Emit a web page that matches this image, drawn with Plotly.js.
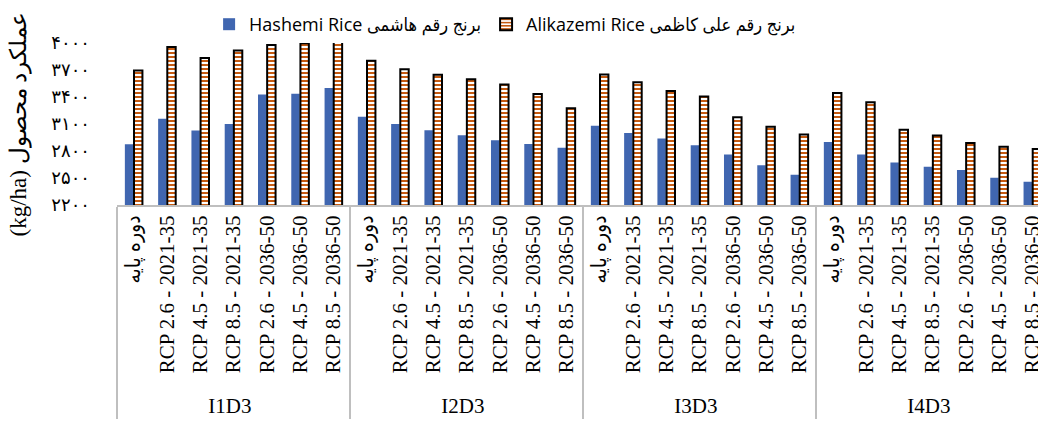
<!DOCTYPE html>
<html>
<head>
<meta charset="utf-8">
<script src="https://cdn.plot.ly/plotly-3.0.1.min.js"></script>
<style>
  html, body { margin: 0; padding: 0; background: #fff; }
  #chart { width: 1038px; height: 426px; }
</style>
</head>
<body>
<div id="chart"></div>
<script>
// groups (irrigation treatments) and scenarios inside each group
const groups = ['I1D3', 'I2D3', 'I3D3', 'I4D3'];
const scenarios = [
    'دوره پایه',
    'RCP 2.6 - 2021-35',
    'RCP 4.5 - 2021-35',
    'RCP 8.5 - 2021-35',
    'RCP 2.6 - 2036-50',
    'RCP 4.5 - 2036-50',
    'RCP 8.5 - 2036-50'
];

// yield (kg/ha), 7 values per group
const hashemi = [
    2874, 3158, 3028, 3099, 3428, 3436, 3500,
    3181, 3099, 3031, 2975, 2919, 2878, 2837,
    3080, 3001, 2938, 2865, 2762, 2642, 2537,
    2900, 2762, 2672, 2624, 2590, 2503, 2458
];
const alikazemi = [
    3694, 3956, 3833, 3916, 3979, 3998, 4050,
    3803, 3709, 3646, 3597, 3540, 3433, 3275,
    3649, 3563, 3466, 3406, 3174, 3069, 2983,
    3444, 3343, 3035, 2972, 2889, 2848, 2821
];

const yTickVals = [2200, 2500, 2800, 3100, 3400, 3700, 4000];
const yTickText = ['۲۲۰۰', '۲۵۰۰', '۲۸۰۰', '۳۱۰۰', '۳۴۰۰', '۳۷۰۰', '۴۰۰۰'];

// build the two-level category arrays
var outer = [], inner = [];
groups.forEach(function (g) {
    scenarios.forEach(function (s) {
        outer.push(g);
        inner.push(s);
    });
});

var trace1 = {
    x: [outer, inner],
    y: hashemi,
    type: 'bar',
    name: 'Hashemi Rice برنج رقم هاشمی',
    marker: { color: '#4066B0' }
};

var trace2 = {
    x: [outer, inner],
    y: alikazemi,
    type: 'bar',
    name: 'Alikazemi Rice برنج رقم علی کاظمی',
    marker: {
        color: '#C55A11',
        line: { color: '#000000', width: 2 },
        pattern: { shape: '-', bgcolor: '#ffffff', fgcolor: '#C55A11', size: 4, solidity: 0.5 }
    }
};

var layout = {
    width: 1038,
    height: 426,
    margin: { l: 117, r: 0, t: 43, b: 221 },
    paper_bgcolor: '#ffffff',
    plot_bgcolor: '#ffffff',
    barmode: 'group',
    bargap: 0.45,
    bargroupgap: 0.08,
    showlegend: true,
    legend: {
        orientation: 'h',
        x: 0.1,
        xanchor: 'left',
        y: 1.0,
        yanchor: 'bottom',
        font: { family: 'Open Sans, DejaVu Sans Condensed, DejaVu Sans, sans-serif', size: 18, color: '#000' },
        itemwidth: 30,
        tracegroupgap: 0
    },
    xaxis: {
        type: 'multicategory',
        range: [-0.5, 27.17],
        tickangle: -90,
        tickfont: { family: 'Liberation Serif, DejaVu Sans Condensed, DejaVu Sans', size: 21, color: '#000' },
        showline: true,
        linecolor: '#BFBFBF',
        linewidth: 2,
        showgrid: false,
        ticks: '',
        showdividers: true,
        dividercolor: '#BFBFBF',
        dividerwidth: 2
    },
    yaxis: {
        range: [2200, 4000],
        tickvals: yTickVals,
        ticktext: yTickText,
        tickfont: { family: 'DejaVu Serif, DejaVu Sans, serif', size: 18, color: '#000' },
        showgrid: false,
        zeroline: false,
        showline: false,
        ticks: '',
        ticklabelstandoff: 26,
        title: {
            text: '(kg/ha) عملکرد محصول',
            font: { family: 'Liberation Serif, DejaVu Serif, serif', size: 23, color: '#000' },
            standoff: 18
        }
    }
};

Plotly.newPlot('chart', [trace1, trace2], layout, { displayModeBar: false });
</script>
</body>
</html>
